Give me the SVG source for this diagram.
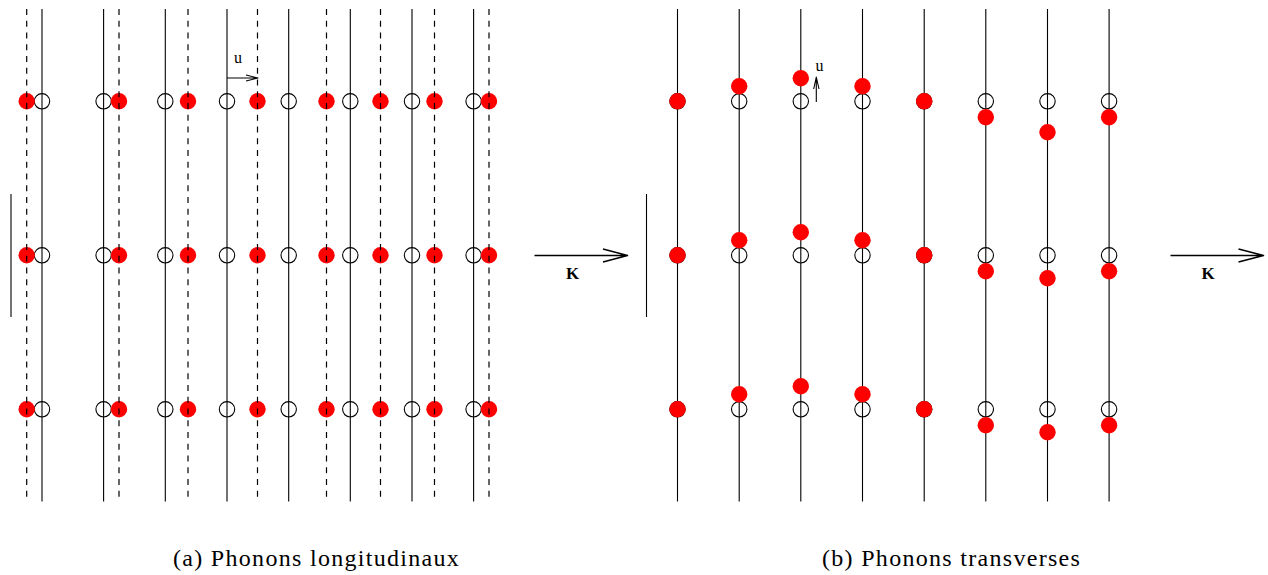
<svg xmlns="http://www.w3.org/2000/svg" width="1268" height="575" viewBox="0 0 1268 575">
<style>
.s{stroke:#000;stroke-width:1.1;fill:none;stroke-linejoin:round}
.d{stroke:#000;stroke-width:1.2;fill:none;stroke-dasharray:6 5.75}
.o{fill:none;stroke:#000;stroke-width:1.1}
.r{fill:#f00}
.a{stroke:#000;stroke-width:1.5;fill:none;stroke-linejoin:round}
.t{font-family:"Liberation Serif",serif;fill:#000}
.c{font-size:24px;letter-spacing:1.3px}
.k{font-size:17px;font-weight:bold}
.u{font-size:16px}
</style>
<rect width="1268" height="575" fill="#fff"/>
<g id="connectors">
<g id="solid-a"><path class="s" d="M42 9V501.500M103.600 9V501.500M165.300 9V501.500M227 9V501.500M288.700 9V501.500M350.300 9V501.500M412 9V501.500M473.600 9V501.500"/></g>
<g id="solid-b"><path class="s" d="M677.500 9V501.500M739.200 9V501.500M800.800 9V501.500M862.500 9V501.500M924.200 9V501.500M985.800 9V501.500M1047.500 9V501.500M1109.100 9V501.500"/></g>
<path id="bar-a" class="s" d="M11 194V317"/>
<path id="bar-b" class="s" d="M646.500 194V317"/>
<path id="u-arrow-a" class="s" d="M227 78H258M246 75L258 78L246 81"/>
<path id="u-arrow-b" class="s" d="M816.300 102V77M813.700 89L816.300 77L819 89"/>
<path id="k-arrow-a" class="a" d="M534.500 255.500H627.500M603 249L627.500 255.500L603 262"/>
<path id="k-arrow-b" class="a" d="M1170.500 255.500H1263.500M1238.500 249L1263.500 255.500L1238.500 262"/>
</g>
<g id="open-a" transform="translate(0 .3)">
<g id="open-a-1"><circle class="o" cx="42" cy="101" r="7.700"/><circle class="o" cx="42" cy="255" r="7.700"/><circle class="o" cx="42" cy="409" r="7.700"/></g>
<g id="open-a-2"><circle class="o" cx="103.600" cy="101" r="7.700"/><circle class="o" cx="103.600" cy="255" r="7.700"/><circle class="o" cx="103.600" cy="409" r="7.700"/></g>
<g id="open-a-3"><circle class="o" cx="165.300" cy="101" r="7.700"/><circle class="o" cx="165.300" cy="255" r="7.700"/><circle class="o" cx="165.300" cy="409" r="7.700"/></g>
<g id="open-a-4"><circle class="o" cx="227" cy="101" r="7.700"/><circle class="o" cx="227" cy="255" r="7.700"/><circle class="o" cx="227" cy="409" r="7.700"/></g>
<g id="open-a-5"><circle class="o" cx="288.700" cy="101" r="7.700"/><circle class="o" cx="288.700" cy="255" r="7.700"/><circle class="o" cx="288.700" cy="409" r="7.700"/></g>
<g id="open-a-6"><circle class="o" cx="350.300" cy="101" r="7.700"/><circle class="o" cx="350.300" cy="255" r="7.700"/><circle class="o" cx="350.300" cy="409" r="7.700"/></g>
<g id="open-a-7"><circle class="o" cx="412" cy="101" r="7.700"/><circle class="o" cx="412" cy="255" r="7.700"/><circle class="o" cx="412" cy="409" r="7.700"/></g>
<g id="open-a-8"><circle class="o" cx="473.600" cy="101" r="7.700"/><circle class="o" cx="473.600" cy="255" r="7.700"/><circle class="o" cx="473.600" cy="409" r="7.700"/></g>
</g>
<g id="red-a" transform="translate(0 .3)">
<g id="red-a-1"><circle class="r" cx="26.700" cy="101" r="8.200"/><circle class="r" cx="26.700" cy="255" r="8.200"/><circle class="r" cx="26.700" cy="409" r="8.200"/></g>
<g id="red-a-2"><circle class="r" cx="119" cy="101" r="8.200"/><circle class="r" cx="119" cy="255" r="8.200"/><circle class="r" cx="119" cy="409" r="8.200"/></g>
<g id="red-a-3"><circle class="r" cx="188" cy="101" r="8.200"/><circle class="r" cx="188" cy="255" r="8.200"/><circle class="r" cx="188" cy="409" r="8.200"/></g>
<g id="red-a-4"><circle class="r" cx="257.500" cy="101" r="8.200"/><circle class="r" cx="257.500" cy="255" r="8.200"/><circle class="r" cx="257.500" cy="409" r="8.200"/></g>
<g id="red-a-5"><circle class="r" cx="326.500" cy="101" r="8.200"/><circle class="r" cx="326.500" cy="255" r="8.200"/><circle class="r" cx="326.500" cy="409" r="8.200"/></g>
<g id="red-a-6"><circle class="r" cx="380.500" cy="101" r="8.200"/><circle class="r" cx="380.500" cy="255" r="8.200"/><circle class="r" cx="380.500" cy="409" r="8.200"/></g>
<g id="red-a-7"><circle class="r" cx="434.500" cy="101" r="8.200"/><circle class="r" cx="434.500" cy="255" r="8.200"/><circle class="r" cx="434.500" cy="409" r="8.200"/></g>
<g id="red-a-8"><circle class="r" cx="489" cy="101" r="8.200"/><circle class="r" cx="489" cy="255" r="8.200"/><circle class="r" cx="489" cy="409" r="8.200"/></g>
</g>
<g id="dashed-a"><path class="d" d="M26.700 9V501.500M119 9V501.500M188 9V501.500M257.500 9V501.500M326.500 9V501.500M380.500 9V501.500M434.500 9V501.500M489 9V501.500"/></g>
<g id="open-b" transform="translate(0 .3)">
<g id="open-b-1"><circle class="o" cx="677.500" cy="101" r="7.700"/><circle class="o" cx="677.500" cy="255" r="7.700"/><circle class="o" cx="677.500" cy="409" r="7.700"/></g>
<g id="open-b-2"><circle class="o" cx="739.200" cy="101" r="7.700"/><circle class="o" cx="739.200" cy="255" r="7.700"/><circle class="o" cx="739.200" cy="409" r="7.700"/></g>
<g id="open-b-3"><circle class="o" cx="800.800" cy="101" r="7.700"/><circle class="o" cx="800.800" cy="255" r="7.700"/><circle class="o" cx="800.800" cy="409" r="7.700"/></g>
<g id="open-b-4"><circle class="o" cx="862.500" cy="101" r="7.700"/><circle class="o" cx="862.500" cy="255" r="7.700"/><circle class="o" cx="862.500" cy="409" r="7.700"/></g>
<g id="open-b-5"><circle class="o" cx="924.200" cy="101" r="7.700"/><circle class="o" cx="924.200" cy="255" r="7.700"/><circle class="o" cx="924.200" cy="409" r="7.700"/></g>
<g id="open-b-6"><circle class="o" cx="985.800" cy="101" r="7.700"/><circle class="o" cx="985.800" cy="255" r="7.700"/><circle class="o" cx="985.800" cy="409" r="7.700"/></g>
<g id="open-b-7"><circle class="o" cx="1047.500" cy="101" r="7.700"/><circle class="o" cx="1047.500" cy="255" r="7.700"/><circle class="o" cx="1047.500" cy="409" r="7.700"/></g>
<g id="open-b-8"><circle class="o" cx="1109.100" cy="101" r="7.700"/><circle class="o" cx="1109.100" cy="255" r="7.700"/><circle class="o" cx="1109.100" cy="409" r="7.700"/></g>
</g>
<g id="red-b" transform="translate(0 .3)">
<g id="red-b-1"><circle class="r" cx="677.500" cy="101" r="8.200"/><circle class="r" cx="677.500" cy="255" r="8.200"/><circle class="r" cx="677.500" cy="409" r="8.200"/></g>
<g id="red-b-2"><circle class="r" cx="739.200" cy="86" r="8.200"/><circle class="r" cx="739.200" cy="240" r="8.200"/><circle class="r" cx="739.200" cy="394" r="8.200"/></g>
<g id="red-b-3"><circle class="r" cx="800.800" cy="78" r="8.200"/><circle class="r" cx="800.800" cy="232" r="8.200"/><circle class="r" cx="800.800" cy="386" r="8.200"/></g>
<g id="red-b-4"><circle class="r" cx="862.500" cy="86" r="8.200"/><circle class="r" cx="862.500" cy="240" r="8.200"/><circle class="r" cx="862.500" cy="394" r="8.200"/></g>
<g id="red-b-5"><circle class="r" cx="924.200" cy="101" r="8.200"/><circle class="r" cx="924.200" cy="255" r="8.200"/><circle class="r" cx="924.200" cy="409" r="8.200"/></g>
<g id="red-b-6"><circle class="r" cx="985.800" cy="117" r="8.200"/><circle class="r" cx="985.800" cy="271" r="8.200"/><circle class="r" cx="985.800" cy="425" r="8.200"/></g>
<g id="red-b-7"><circle class="r" cx="1047.500" cy="132" r="8.200"/><circle class="r" cx="1047.500" cy="278" r="8.200"/><circle class="r" cx="1047.500" cy="432" r="8.200"/></g>
<g id="red-b-8"><circle class="r" cx="1109.100" cy="117" r="8.200"/><circle class="r" cx="1109.100" cy="271" r="8.200"/><circle class="r" cx="1109.100" cy="425" r="8.200"/></g>
</g>
<g id="labels">
<text class="t u" x="234" y="63">u</text>
<text class="t u" x="815.500" y="71">u</text>
<text class="t k" x="566" y="279.300">K</text>
<text class="t k" x="1201.500" y="279.300">K</text>
<text class="t c" x="173" y="566">(a) Phonons longitudinaux</text>
<text class="t c" x="822" y="566">(b) Phonons transverses</text>
</g>
</svg>
